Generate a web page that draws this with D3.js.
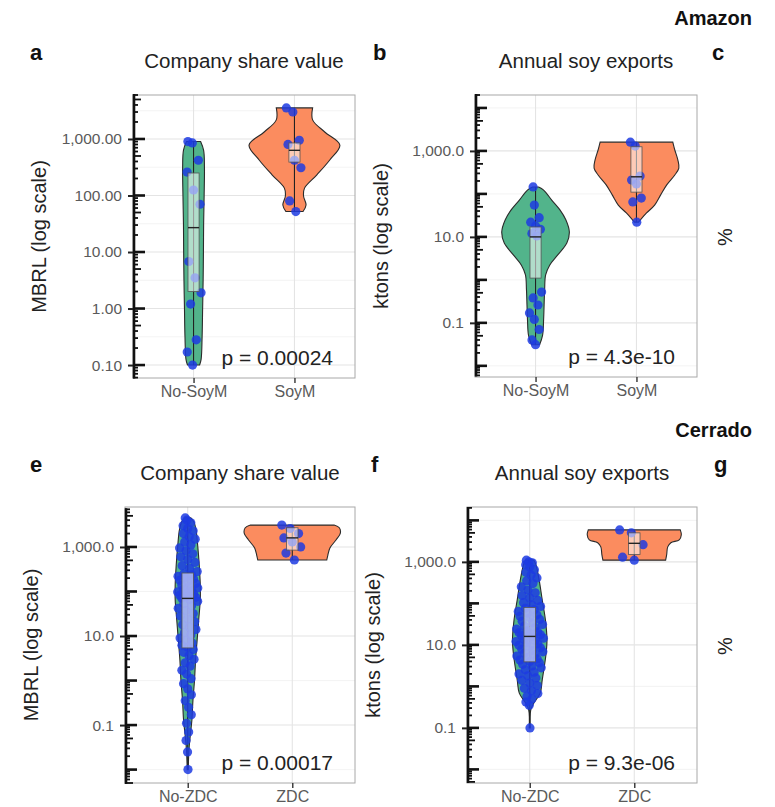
<!DOCTYPE html>
<html>
<head>
<meta charset="utf-8">
<script src="https://cdn.jsdelivr.net/npm/d3@7"></script>
<style>
body { margin: 0; background: #fff; }
svg { font-family: "Liberation Sans", Arial, sans-serif; }
</style>
</head>
<body>
<svg width="775" height="807"></svg>
<script>
// categories
var amazonGroups = ["No-SoyM", "SoyM"];
var cerradoGroups = ["No-ZDC", "ZDC"];

// company points
var shareNoSoyM = [900, 850, 420, 260, 125, 70, 6.8, 3.5, 1.9, 1.2, 0.28, 0.17, 0.1];
var shareSoyM = [3550, 3000, 950, 800, 420, 310, 80, 52];
var exportNoSoyM = [145, 55, 28, 22, 18, 15, 12, 10.5, 0.52, 0.38, 0.26, 0.17, 0.12, 0.07, 0.04, 0.031];
var exportSoyM = [1600, 1300, 260, 210, 170, 80, 65, 22];
var shareNoZDC = [4500, 4000, 3500, 3000, 2600, 2300, 2000, 1700, 1500, 1300, 1100, 950, 820, 700, 600, 520, 450, 380, 330, 280,
  250, 235, 220, 205, 190, 178, 165, 152, 140, 130, 120, 112, 105, 98, 92, 87, 82, 78, 74, 71,
  66, 60, 54, 48, 42, 37, 32, 28, 24, 21, 18, 16, 14, 12, 10.5, 9, 8, 7, 6.2, 5.6,
  5, 4.3, 3.6, 3, 2.5, 2.1, 1.7, 1.4, 1.1, 0.85, 0.65, 0.48, 0.35, 0.25, 0.17, 0.11, 0.07, 0.045, 0.025, 0.01];
var shareZDC = [3100, 2600, 2000, 1600, 1300, 1000, 730, 510];
var exportNoZDC = [1100, 1000, 950, 850, 750, 650, 560, 480, 410, 350, 300, 250, 210, 180, 155, 135, 118, 104, 92, 84,
  76, 70, 64, 58, 53, 49, 45, 41, 37, 34, 31, 28.5, 26, 24, 22, 20.5, 19.5, 18.5, 17.5, 16.5,
  15.5, 14.5, 13.5, 12.7, 12, 11.2, 10.5, 9.8, 9.1, 8.5, 7.9, 7.3, 6.8, 6.3, 5.8, 5.4, 5, 4.6, 4.3, 4,
  3.7, 3.4, 3.1, 2.8, 2.5, 2.2, 2, 1.8, 1.6, 1.4, 1.2, 1.05, 0.9, 0.78, 0.67, 0.58, 0.5, 0.42, 0.35, 0.1];
var exportZDC = [5900, 5000, 2600, 1300, 1100];

// box stats: min, q1, median, q3, max
var boxShareNoSoyM = [0.1, 2.0, 27, 250, 900];
var boxShareSoyM = [52, 390, 630, 850, 3550];
var boxExportNoSoyM = [0.031, 1.1, 10, 17, 145];
var boxExportSoyM = [22, 110, 250, 1250, 1600];
var boxShareNoZDC = [0.01, 5.4, 70, 260, 4500];
var boxShareZDC = [510, 850, 1600, 2700, 3100];
var boxExportNoZDC = [0.1, 3.9, 16, 80, 1100];
var boxExportZDC = [1100, 1500, 2800, 5000, 5900];

// violin outlines: [value, half width in category units]
var violinShareNoSoyM = [[0.1, 0.06], [0.126, 0.075], [0.32, 0.085], [1, 0.09], [3.2, 0.095], [10, 0.098], [32, 0.1], [100, 0.105], [320, 0.108], [630, 0.1], [900, 0.07]];
var violinShareSoyM = [[3550, 0.18], [2180, 0.18], [1330, 0.3], [780, 0.45], [425, 0.35], [230, 0.22], [135, 0.1], [98, 0.09], [68, 0.115], [52, 0.085]];
var violinExportNoSoyM = [[145, 0.03], [123, 0.08], [72, 0.16], [43, 0.24], [25, 0.3], [13, 0.335], [7.2, 0.31], [3.8, 0.22], [2.2, 0.14], [1.3, 0.1], [0.59, 0.09], [0.12, 0.08], [0.052, 0.07], [0.031, 0.04]];
var violinExportSoyM = [[1600, 0.36], [1050, 0.38], [620, 0.41], [400, 0.42], [275, 0.38], [162, 0.3], [95, 0.24], [55, 0.18], [36, 0.1], [25, 0.04], [22, 0.02]];
var violinShareNoZDC = [[4500, 0.03], [3600, 0.06], [2400, 0.08], [1100, 0.095], [400, 0.11], [141, 0.12], [65, 0.12], [23, 0.105], [8.1, 0.09], [2.9, 0.075], [1.02, 0.065], [0.36, 0.05], [0.13, 0.04], [0.06, 0.025], [0.028, 0.012], [0.01, 0.005]];
var violinShareZDC = [[3100, 0.40], [2700, 0.45], [2050, 0.46], [1450, 0.42], [950, 0.36], [650, 0.34], [510, 0.33]];
var violinExportNoZDC = [[1100, 0.04], [850, 0.06], [370, 0.09], [120, 0.12], [40, 0.15], [13, 0.165], [5.8, 0.155], [1.45, 0.12], [0.69, 0.1], [0.4, 0.04], [0.27, 0.01], [0.1, 0.005]];
var violinExportZDC = [[5900, 0.44], [4500, 0.45], [3400, 0.43], [2900, 0.35], [2300, 0.32], [1500, 0.31], [1100, 0.30]];

// y tick labels
var ticksTwoDec = [0.1, 1, 10, 100, 1000];
var labelsTwoDec = ["0.10", "1.00", "10.00", "100.00", "1,000.00"];
var ticksOneDec = [0.1, 10, 1000];
var labelsOneDec = ["0.1", "10.0", "1,000.0"];

var pValues = ["p = 0.00024", "p = 4.3e-10", "p = 0.00017", "p = 9.3e-06"];

var colGreen = "#52b48b", colOrange = "#fb8c5f", colPoint = "#1d3be2";

var svg = d3.select("svg");

var panels = [
  { letter: "a", title: "Company share value", ytitle: "MBRL (log scale)", groups: amazonGroups,
    l: 133, r: 355, t: 95, b: 378, dom: [0.059, 6000], ticks: ticksTwoDec, labels: labelsTwoDec, p: pValues[0], jw: 0.08,
    series: [[shareNoSoyM, boxShareNoSoyM, violinShareNoSoyM], [shareSoyM, boxShareSoyM, violinShareSoyM]] },
  { letter: "b", title: "Annual soy exports", ytitle: "ktons (log scale)", groups: amazonGroups,
    l: 475, r: 697, t: 95, b: 377, dom: [0.0055, 20000], ticks: ticksOneDec, labels: labelsOneDec, p: pValues[1], jw: 0.06,
    series: [[exportNoSoyM, boxExportNoSoyM, violinExportNoSoyM], [exportSoyM, boxExportSoyM, violinExportSoyM]] },
  { letter: "e", title: "Company share value", ytitle: "MBRL (log scale)", groups: cerradoGroups,
    l: 125, r: 355, t: 507, b: 783, dom: [0.005, 7900], ticks: ticksOneDec, labels: labelsOneDec, p: pValues[2], jw: 0.1,
    series: [[shareNoZDC, boxShareNoZDC, violinShareNoZDC], [shareZDC, boxShareZDC, violinShareZDC]] },
  { letter: "f", title: "Annual soy exports", ytitle: "ktons (log scale)", groups: cerradoGroups,
    l: 467, r: 697, t: 507, b: 783, dom: [0.0047, 21000], ticks: ticksOneDec, labels: labelsOneDec, p: pValues[3], jw: 0.14,
    series: [[exportNoZDC, boxExportNoZDC, violinExportNoZDC], [exportZDC, boxExportZDC, violinExportZDC]] }
];

// half width of a violin at value v (interpolated in log space)
function halfAt(prof, v) {
  var lv = Math.log10(v);
  for (var i = 0; i < prof.length - 1; i++) {
    var a = Math.log10(prof[i][0]), b = Math.log10(prof[i + 1][0]);
    if ((lv <= a && lv >= b) || (lv >= a && lv <= b)) {
      var f = a === b ? 0 : (lv - a) / (b - a);
      return prof[i][1] + f * (prof[i + 1][1] - prof[i][1]);
    }
  }
  return prof[prof.length - 1][1];
}

panels.forEach(function(P) {
  var x = d3.scaleLinear().domain([0.4, 2.6]).range([P.l, P.r]);
  var y = d3.scaleLog().domain(P.dom).range([P.b, P.t]);
  var unit = x(1) - x(0);
  var g = svg.append("g");

  g.append("rect").attr("x", P.l).attr("y", P.t).attr("width", P.r - P.l).attr("height", P.b - P.t).attr("fill", "#fff");

  // minor grid
  var lt = P.ticks.map(function(d) { return Math.log10(d); });
  var step = lt[1] - lt[0];
  var minors = [];
  for (var m = lt[0] - step / 2; m <= lt[lt.length - 1] + step; m += step) {
    var mv = Math.pow(10, m);
    if (mv > P.dom[0] && mv < P.dom[1]) minors.push(mv);
  }
  g.selectAll(".minor").data(minors).enter().append("line")
    .attr("x1", P.l).attr("x2", P.r).attr("y1", function(d) { return y(d); }).attr("y2", function(d) { return y(d); })
    .attr("stroke", "#f0f0f0").attr("stroke-width", 0.8);
  g.selectAll(".major").data(P.ticks).enter().append("line")
    .attr("x1", P.l).attr("x2", P.r).attr("y1", function(d) { return y(d); }).attr("y2", function(d) { return y(d); })
    .attr("stroke", "#e4e4e4").attr("stroke-width", 1.1);
  g.selectAll(".vgrid").data([1, 2]).enter().append("line")
    .attr("x1", function(d) { return x(d); }).attr("x2", function(d) { return x(d); }).attr("y1", P.t).attr("y2", P.b)
    .attr("stroke", "#e4e4e4").attr("stroke-width", 1.1);

  P.series.forEach(function(s, i) {
    var cx = x(i + 1), pts = s[0], box = s[1], prof = s[2];
    var fill = i === 0 ? colGreen : colOrange;

    var area = d3.area()
      .y(function(d) { return y(d[0]); })
      .x0(function(d) { return cx - d[1] * unit; })
      .x1(function(d) { return cx + d[1] * unit; })
      .curve(d3.curveCatmullRom.alpha(0.5));
    g.append("path").datum(prof).attr("d", area)
      .attr("fill", fill).attr("stroke", "#2b2b2b").attr("stroke-width", 1.1);

    // whisker
    g.append("line").attr("x1", cx).attr("x2", cx).attr("y1", y(box[0])).attr("y2", y(box[4]))
      .attr("stroke", "#222").attr("stroke-width", 1.1);

    // points, spread within the violin
    g.selectAll(null).data(pts).enter().append("circle")
      .attr("cx", function(d, k) {
        var off = ((k * 37) % 11 - 5) / 5;
        var w = Math.min(P.jw, halfAt(prof, d) * 0.8);
        return cx + off * w * unit;
      })
      .attr("cy", function(d) { return y(d); })
      .attr("r", 4.6)
      .attr("fill", colPoint).attr("fill-opacity", 0.85);

    // box
    var bw = 0.055 * unit;
    g.append("rect").attr("x", cx - bw).attr("width", bw * 2)
      .attr("y", y(box[3])).attr("height", y(box[1]) - y(box[3]))
      .attr("fill", "#fff").attr("fill-opacity", 0.55).attr("stroke", "#555").attr("stroke-width", 0.8);
    g.append("line").attr("x1", cx - bw).attr("x2", cx + bw).attr("y1", y(box[2])).attr("y2", y(box[2]))
      .attr("stroke", "#222").attr("stroke-width", 1.4);
  });

  // panel border
  g.append("rect").attr("x", P.l).attr("y", P.t).attr("width", P.r - P.l).attr("height", P.b - P.t)
    .attr("fill", "none").attr("stroke", "#a8a8a8").attr("stroke-width", 1);

  // log ticks inside the left edge
  var lt0 = Math.floor(Math.log10(P.dom[0])), lt1 = Math.ceil(Math.log10(P.dom[1]));
  var logticks = [];
  for (var dd = lt0; dd <= lt1; dd++) {
    for (var k = 1; k <= 9; k++) {
      var v = k * Math.pow(10, dd);
      if (v >= P.dom[0] && v <= P.dom[1]) logticks.push({ v: v, len: k === 1 ? 12 : (k === 5 ? 8 : 5) });
    }
  }
  var yExt = d3.extent(logticks, function(d) { return y(d.v); });
  g.append("line").attr("x1", P.l + 1).attr("x2", P.l + 1).attr("y1", yExt[0] - 1).attr("y2", yExt[1] + 1)
    .attr("stroke", "#111").attr("stroke-width", 2.6);
  g.selectAll(".lt").data(logticks).enter().append("line")
    .attr("x1", P.l).attr("x2", function(d) { return P.l + d.len; })
    .attr("y1", function(d) { return y(d.v); }).attr("y2", function(d) { return y(d.v); })
    .attr("stroke", "#111").attr("stroke-width", function(d) { return d.len === 12 ? 2.6 : 1.8; });

  // axes
  var yAxis = d3.axisLeft(y).tickValues(P.ticks).tickSize(5).tickPadding(6)
    .tickFormat(function(d, i) { return P.labels[i]; });
  var ya = g.append("g").attr("transform", "translate(" + P.l + ",0)").call(yAxis);
  ya.select(".domain").remove();
  ya.selectAll("line").attr("stroke", "#222").attr("stroke-width", 2);
  ya.selectAll("text").attr("fill", "#5a5a5a").style("font-size", "15.5px").style("font-family", "Liberation Sans, Arial, sans-serif");

  var xAxis = d3.axisBottom(x).tickValues([1, 2]).tickSize(5).tickPadding(3)
    .tickFormat(function(d) { return P.groups[d - 1]; });
  var xa = g.append("g").attr("transform", "translate(0," + P.b + ")").call(xAxis);
  xa.select(".domain").remove();
  xa.selectAll("line").attr("stroke", "#333").attr("stroke-width", 1.4);
  xa.selectAll("text").attr("fill", "#5a5a5a").style("font-size", "16px").style("font-family", "Liberation Sans, Arial, sans-serif");

  // texts
  g.append("text").attr("x", (P.l + P.r) / 2).attr("y", P.t - 27).attr("text-anchor", "middle")
    .style("font-size", "20.5px").attr("fill", "#222").text(P.title);
  g.append("text").attr("transform", "translate(" + (P.l - 87) + "," + ((P.t + P.b) / 2) + ") rotate(-90)")
    .attr("text-anchor", "middle").style("font-size", "20px").attr("fill", "#222").text(P.ytitle);
  g.append("text").attr("x", P.r - 22).attr("y", P.b - 13).attr("text-anchor", "end")
    .style("font-size", "21px").attr("fill", "#222").text(P.p);
});

// panel letters and region labels
var letters = [["a", 30, 60], ["b", 373, 60], ["c", 712, 60], ["e", 30, 472], ["f", 371, 472], ["g", 714, 472]];
svg.selectAll(".letter").data(letters).enter().append("text")
  .attr("x", function(d) { return d[1]; }).attr("y", function(d) { return d[2]; })
  .style("font-size", "22px").style("font-weight", "bold").attr("fill", "#111").text(function(d) { return d[0]; });

svg.append("text").attr("x", 752).attr("y", 25).attr("text-anchor", "end")
  .style("font-size", "20px").style("font-weight", "bold").attr("fill", "#111").text("Amazon");
svg.append("text").attr("x", 752).attr("y", 437).attr("text-anchor", "end")
  .style("font-size", "20px").style("font-weight", "bold").attr("fill", "#111").text("Cerrado");

[237, 646].forEach(function(cy) {
  svg.append("text").attr("transform", "translate(732," + cy + ") rotate(-90)").attr("text-anchor", "middle")
    .style("font-size", "20px").attr("fill", "#222").text("%");
});
</script>
</body>
</html>
